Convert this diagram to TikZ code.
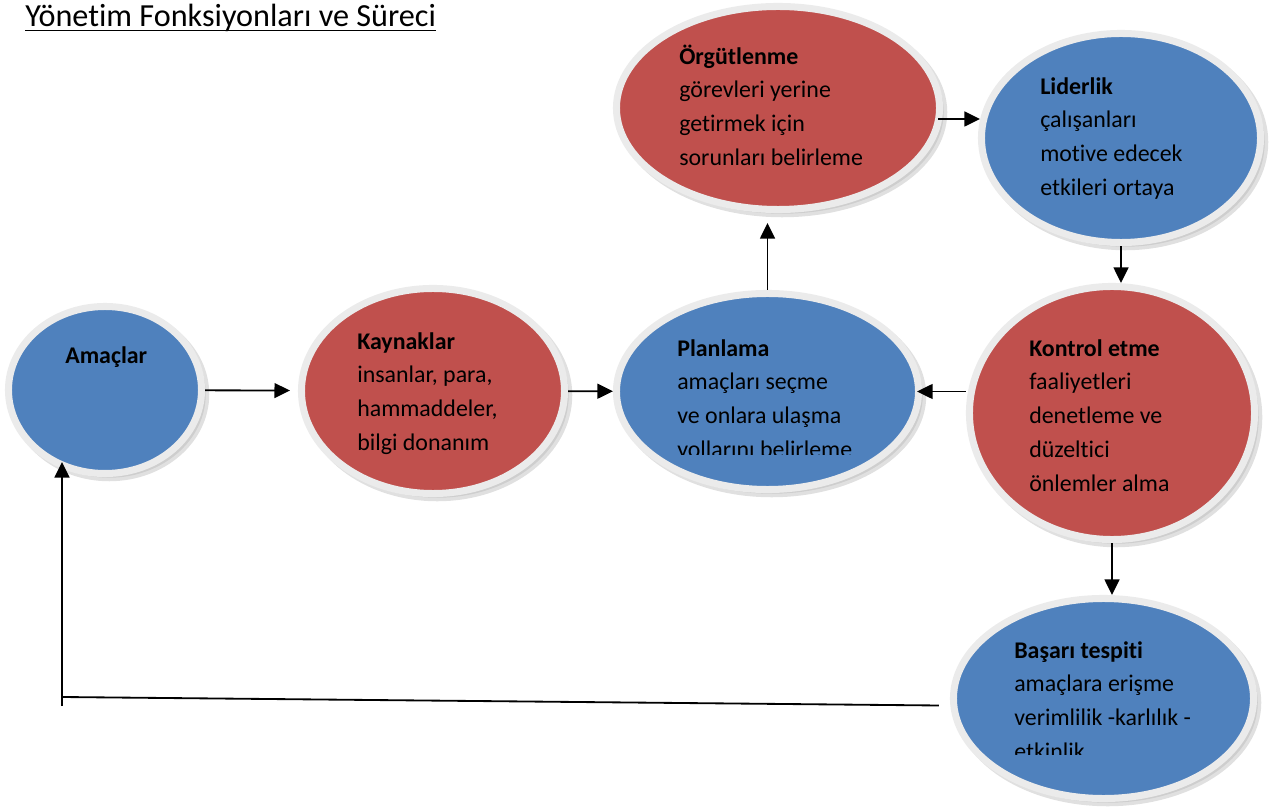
\documentclass[tikz,border=0pt]{standalone}
\usepackage{fontspec}
\setmainfont[Ligatures=NoCommon]{Carlito}
\usepackage{tikz}
\usetikzlibrary{arrows.meta,positioning,calc,shapes.geometric,shadows}
\definecolor{ballblue}{HTML}{4F81BD}
\definecolor{ballred}{HTML}{C0504D}
\definecolor{ballrim}{HTML}{EBEBEB}

\begin{document}
\begin{tikzpicture}[x=0.025cm, y=-0.025cm, >={Triangle[length=11pt,width=10.5pt]},
  ball/.style={ellipse, draw=ballrim, line width=5pt, inner sep=0pt,
    drop shadow={shadow xshift=3pt, shadow yshift=-3pt, fill=black!30, draw=black!30, opacity=.4}},
  blueball/.style={ball, fill=ballblue},
  redball/.style={ball, fill=ballred},
  balltext/.style={anchor=north west, inner sep=0pt, align=left, font=\fontsize{17}{24}\selectfont},
  link/.style={->, line width=1.3pt}]
\useasboundingbox (0,0) rectangle (1271,807);
% title
\node[anchor=base west, inner sep=0pt, font=\fontsize{22.9}{27}\selectfont] (title) at (25,27) {Yönetim Fonksiyonları ve Süreci};
\draw[line width=1.3pt] ($(title.base west)+(0,3.5)$) -- ($(title.base east)+(0,3.5)$);
% the functions
\node[blueball, minimum width=4.825cm, minimum height=4.175cm] (amaclar) at (105,390) {};
\node[redball, minimum width=6.575cm, minimum height=5.125cm] (kaynak) at (433,391) {};
\node[blueball, minimum width=7.55cm, minimum height=4.9cm] (plan) at (767.5,391.5) {};
\node[redball, minimum width=8.075cm, minimum height=5.075cm] (org) at (778,108) {};
\node[blueball, minimum width=6.975cm, minimum height=5.225cm] (lider) at (1121,138) {};
\node[redball, minimum width=7.125cm, minimum height=6.325cm] (kontrol) at (1112,413) {};
\node[blueball, minimum width=7.5cm, minimum height=5cm] (basari) at (1103.5,698.5) {};
% their texts
\node[balltext] (amaclar-t) at (65,339.3) {\strut\textbf{Amaçlar}};
\node[balltext] (kaynak-t) at (357,325.3) {\strut\textbf{Kaynaklar}\\insanlar, para,\\hammaddeler,\\bilgi donanım};
\begin{scope}
\clip (600,300) rectangle (930,454);
\node[balltext] (plan-t) at (677,332.3) {\strut\textbf{Planlama}\\amaçları seçme\\ve onlara ulaşma\\yollarını belirleme};
\end{scope}
\node[balltext] (org-t) at (679,40.3) {\strut\textbf{Örgütlenme}\\görevleri yerine\\getirmek için\\sorunları belirleme};
\node[balltext] (lider-t) at (1040,70.3) {\strut\textbf{Liderlik}\\çalışanları\\motive edecek\\etkileri ortaya};
\node[balltext] (kontrol-t) at (1029,332.3) {\strut\textbf{Kontrol etme}\\faaliyetleri\\denetleme ve\\düzeltici\\önlemler alma};
\begin{scope}
\clip (940,600) rectangle (1260,754);
\node[balltext] (basari-t) at (1014,634.3) {\strut\textbf{Başarı tespiti}\\amaçlara erişme\\verimlilik -karlılık -\\etkinlik};
\end{scope}
% connectors
\draw[link, shorten >=0.2cm] (amaclar) -- (kaynak);
\draw[link] (kaynak) -- (plan);
\draw[link, shorten >=0.25cm] (plan.north) -- (plan.north |- org.south);
\draw[link] ($(org.east)+(-5,11)$) -- ($(lider.west)+(2,-19)$);
\draw[link] (lider.south) -- (lider.south |- kontrol.north);
\draw[link, shorten >=-0.125cm] (kontrol.west |- plan.east) -- (plan.east);
\draw[link] (kontrol.south) -- (kontrol.south |- basari.north);
\coordinate (corner) at (62,697);
\draw[line width=1.3pt] ($(basari.west)+(-11,7)$) -- (corner);
\draw[link, shorten >=-0.375cm] ($(corner)+(0,9)$) -- (corner |- amaclar.south);
\end{tikzpicture}
\end{document}
